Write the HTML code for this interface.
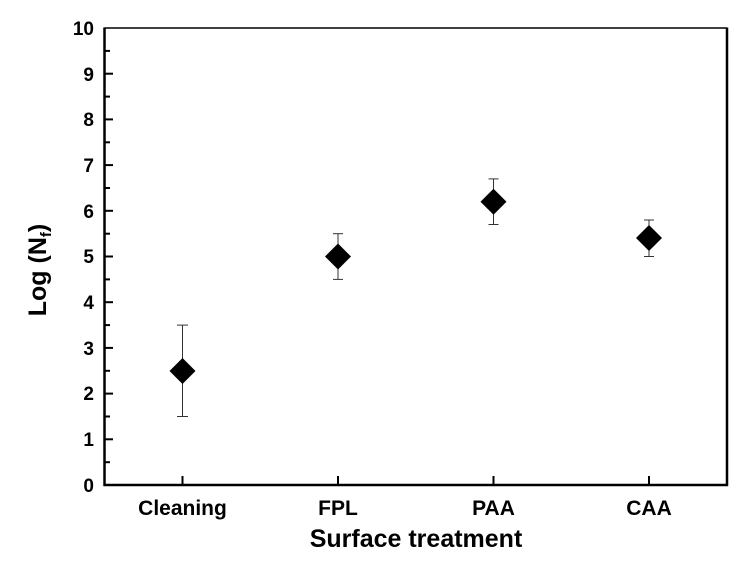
<!DOCTYPE html>
<html><head><style>body{margin:0;background:#fff}</style></head><body>
<svg width="751" height="564" xmlns="http://www.w3.org/2000/svg" font-family="Liberation Sans, Arial, sans-serif" font-weight="bold">
<rect width="751" height="564" fill="#fff"/>
<g stroke="#000" fill="none">
<line x1="104.5" y1="28" x2="727" y2="28" stroke-width="1.5"/>
<line x1="727" y1="27.5" x2="727" y2="486" stroke-width="2.5"/>
<line x1="104.5" y1="27.5" x2="104.5" y2="486" stroke-width="2.5"/>
<line x1="103.5" y1="485" x2="728" y2="485" stroke-width="2.5"/>
<g stroke-width="2">
<line x1="104" y1="439.3" x2="113" y2="439.3"/><line x1="104" y1="393.6" x2="113" y2="393.6"/><line x1="104" y1="347.9" x2="113" y2="347.9"/><line x1="104" y1="302.2" x2="113" y2="302.2"/><line x1="104" y1="256.5" x2="113" y2="256.5"/><line x1="104" y1="210.8" x2="113" y2="210.8"/><line x1="104" y1="165.1" x2="113" y2="165.1"/><line x1="104" y1="119.4" x2="113" y2="119.4"/><line x1="104" y1="73.7" x2="113" y2="73.7"/>
<line x1="104" y1="462.2" x2="110" y2="462.2"/><line x1="104" y1="416.5" x2="110" y2="416.5"/><line x1="104" y1="370.8" x2="110" y2="370.8"/><line x1="104" y1="325.1" x2="110" y2="325.1"/><line x1="104" y1="279.4" x2="110" y2="279.4"/><line x1="104" y1="233.7" x2="110" y2="233.7"/><line x1="104" y1="188" x2="110" y2="188"/><line x1="104" y1="142.3" x2="110" y2="142.3"/><line x1="104" y1="96.6" x2="110" y2="96.6"/><line x1="104" y1="50.9" x2="110" y2="50.9"/>
<line x1="182.5" y1="485" x2="182.5" y2="476"/><line x1="338" y1="485" x2="338" y2="476"/><line x1="493.5" y1="485" x2="493.5" y2="476"/><line x1="649" y1="485" x2="649" y2="476"/>
</g>
<g stroke-width="1" stroke="#333">
<line x1="182.5" y1="325.1" x2="182.5" y2="416.5"/><line x1="177" y1="325.1" x2="188" y2="325.1"/><line x1="177" y1="416.5" x2="188" y2="416.5"/>
<line x1="338" y1="233.7" x2="338" y2="279.4"/><line x1="333" y1="233.7" x2="343" y2="233.7"/><line x1="333" y1="279.4" x2="343" y2="279.4"/>
<line x1="493.5" y1="178.9" x2="493.5" y2="224.5"/><line x1="488.5" y1="178.9" x2="498.5" y2="178.9"/><line x1="488.5" y1="224.5" x2="498.5" y2="224.5"/>
<line x1="649" y1="220" x2="649" y2="256.5"/><line x1="644" y1="220" x2="654" y2="220"/><line x1="644" y1="256.5" x2="654" y2="256.5"/>
</g>
</g>
<g fill="#000">
<polygon points="182.5,358 195.5,371 182.5,384 169.5,371"/>
<polygon points="338,243.5 351,256.5 338,269.5 325,256.5"/>
<polygon points="493.5,188.7 506.5,201.7 493.5,214.7 480.5,201.7"/>
<polygon points="649,225 662,238 649,251 636,238"/>
</g>
<g font-size="19" text-anchor="end">
<text x="94" y="492">0</text><text x="94" y="446">1</text><text x="94" y="400">2</text><text x="94" y="355">3</text><text x="94" y="309">4</text><text x="94" y="263">5</text><text x="94" y="218">6</text><text x="94" y="172">7</text><text x="94" y="126">8</text><text x="94" y="81">9</text><text x="94" y="35">10</text>
</g>
<g font-size="21" text-anchor="middle">
<text x="182.5" y="515">Cleaning</text><text x="338" y="515">FPL</text><text x="493.5" y="515">PAA</text><text x="649" y="515">CAA</text>
</g>
<text x="416" y="547" font-size="25" text-anchor="middle">Surface treatment</text>
<text transform="translate(46,270) rotate(-90)" font-size="25" text-anchor="middle">Log (N<tspan font-size="15" dy="5">f</tspan><tspan dy="-5">)</tspan></text>
</svg>
</body></html>
